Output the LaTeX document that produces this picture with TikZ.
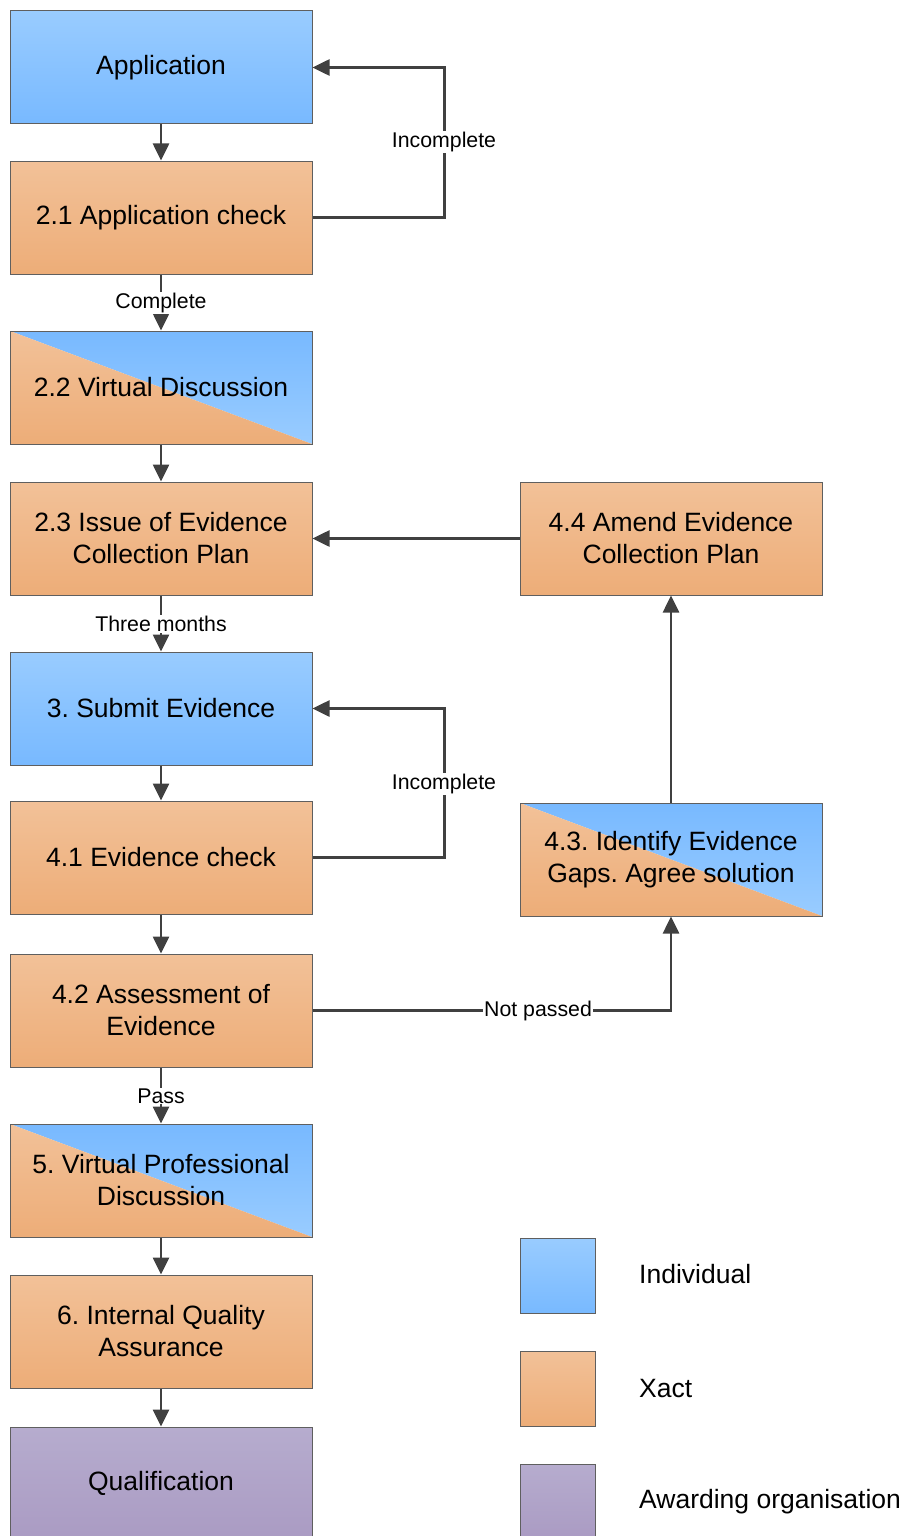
\documentclass[tikz,border=0pt]{standalone}
\usepackage{fontspec}
\setmainfont{Liberation Sans}
\usetikzlibrary{arrows.meta}
\frenchspacing
\definecolor{bluetop}{RGB}{153,204,255}
\definecolor{bluebot}{RGB}{120,185,255}
\definecolor{ortop}{RGB}{242,193,152}
\definecolor{orbot}{RGB}{237,173,120}
\definecolor{putop}{RGB}{182,172,206}
\definecolor{pubot}{RGB}{170,155,195}
\definecolor{edgegray}{RGB}{95,95,95}
\definecolor{conngray}{RGB}{64,64,64}
\tikzset{
 box/.style={draw=edgegray, line width=1pt, minimum width=302pt, minimum height=113pt, inner sep=0pt, align=center, font=\fontsize{26.5}{32}\selectfont},
 indiv/.style={box, top color=bluetop, bottom color=bluebot},
 xact/.style={box, top color=ortop, bottom color=orbot},
 awd/.style={box, top color=putop, bottom color=pubot},
 split/.style={box, path picture={
   \shade[top color=bluebot, bottom color=bluetop] (path picture bounding box.north west) -- (path picture bounding box.north east) -- (path picture bounding box.south east) -- cycle;
   \shade[top color=ortop, bottom color=orbot] (path picture bounding box.north west) -- (path picture bounding box.south west) -- (path picture bounding box.south east) -- cycle;}},
 legbox/.style={draw=edgegray, line width=1pt, minimum width=75pt, minimum height=75pt, inner sep=0pt},
 legtext/.style={anchor=west, inner sep=0pt, font=\fontsize{26.5}{32}\selectfont},
 conn/.style={draw=conngray, line width=2.6pt, -{Triangle[length=17pt,width=16pt]}},
 lab/.style={fill=white, inner sep=1pt, font=\fontsize{21.3}{24}\selectfont, text=black},
}
\begin{document}
\begin{tikzpicture}[x=1pt, y=-1pt]
\useasboundingbox (0,0) rectangle (905,1536);
\clip (0,0) rectangle (905,1536);
% left column
\node[indiv] (app) at (161,67.5) {Application};
\node[xact] (c21) at (161,217.5) {2.1 Application check};
\node[split] (c22) at (161,387.5) {2.2 Virtual Discussion};
\node[xact] (c23) at (161,538.5) {2.3 Issue of Evidence\\Collection Plan};
\node[indiv] (c3) at (161,708.5) {3. Submit Evidence};
\node[xact] (c41) at (161,857.5) {4.1 Evidence check};
\node[xact] (c42) at (161,1010.5) {4.2 Assessment of\\Evidence};
\node[split] (c5) at (161,1180.5) {5. Virtual Professional\\Discussion};
\node[xact] (c6) at (161,1331.5) {6. Internal Quality\\Assurance};
\node[awd] (qual) at (161,1483.5) {Qualification};
% right column
\node[xact] (c44) at (671,538.5) {4.4 Amend Evidence\\Collection Plan};
\node[split] (c43) at (671,859.5) {4.3. Identify Evidence\\Gaps. Agree solution};
% legend
\node[legbox, top color=bluetop, bottom color=bluebot] (lg1) at (557.5,1275.5) {};
\node[legbox, top color=ortop, bottom color=orbot] (lg2) at (557.5,1388.5) {};
\node[legbox, top color=putop, bottom color=pubot] (lg3) at (557.5,1501.5) {};
\node[legtext] (lt1) at (639,1274) {Individual};
\node[legtext] (lt2) at (639,1388) {Xact};
\node[legtext] (lt3) at (639,1502) {Awarding organisation};
% connectors
\draw[conn] (app) -- (c21);
\draw[conn] (c21.east) -- ++(132,0) coordinate (k1) |- (app.east);
\node[lab] (l1) at (444,142) {Incomplete};
\draw[conn] (c21) -- (c22);
\node[lab] (l2) at (161,303) {Complete};
\draw[conn] (c22) -- (c23);
\draw[conn] (c44) -- (c23);
\draw[conn] (c23) -- (c3);
\node[lab] (l3) at (161,624) {Three months};
\draw[conn] (c3) -- (c41);
\draw[conn] (c41.east) -- ++(132,0) coordinate (k2) |- (c3.east);
\node[lab] (l4) at (444,784) {Incomplete};
\draw[conn] (c41) -- (c42);
\draw[conn] (c42.east) -| (c43.south);
\node[lab] (l5) at (538,1011) {Not passed};
\draw[conn] (c43) -- (c44);
\draw[conn] (c42) -- (c5);
\node[lab] (l6) at (161,1096) {Pass};
\draw[conn] (c5) -- (c6);
\draw[conn] (c6) -- (qual);
\end{tikzpicture}
\end{document}
